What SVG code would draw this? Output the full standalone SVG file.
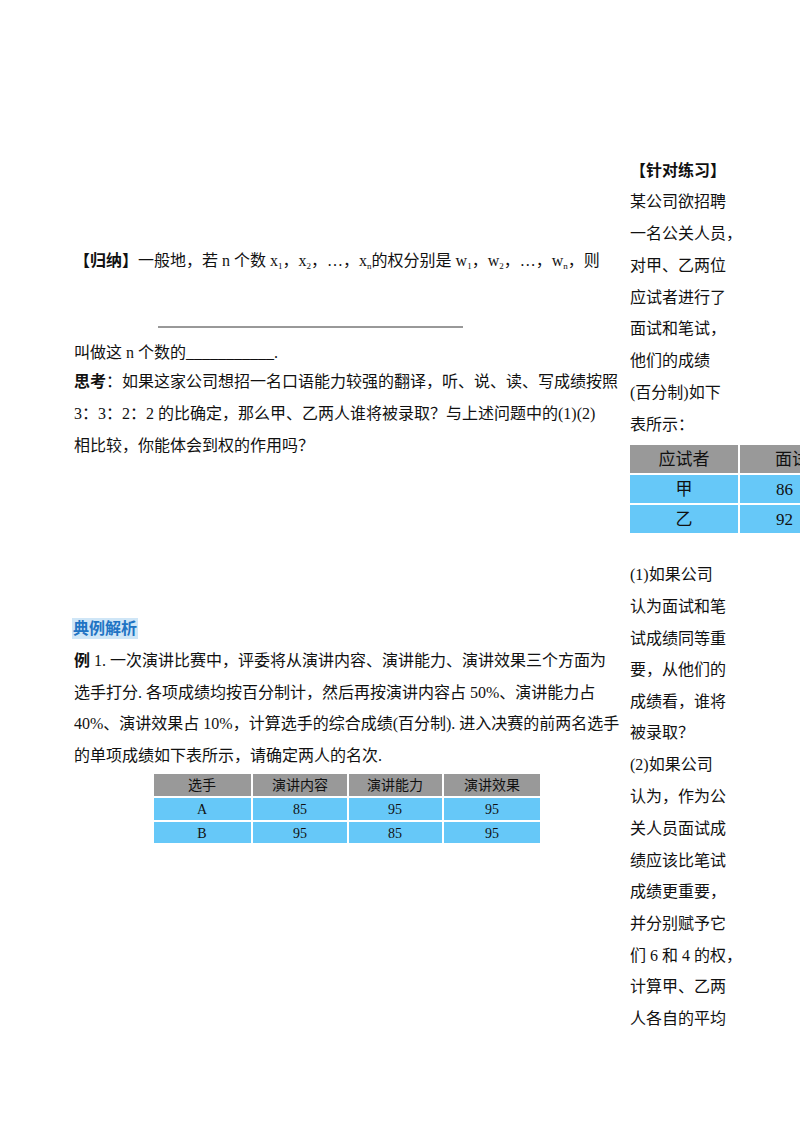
<svg xmlns="http://www.w3.org/2000/svg" width="800" height="1132" viewBox="0 0 800 1132">
<style>
text{font-family:"Liberation Serif","Noto Sans CJK SC",serif;font-size:16px;fill:#111}
.b{font-family:"Noto Sans CJK SC",sans-serif;font-weight:bold}
.c{text-anchor:middle}
.h{fill:#999}
.r{fill:#66c8f8}
.s{font-size:9px}
</style>
<rect width="800" height="1132" fill="#fff"/>
<g id="left">
<text x="74" y="266"><tspan class="b">【归纳】</tspan>一般地，若 n 个数 x<tspan class="s" dy="3">1</tspan><tspan dy="-3">，x</tspan><tspan class="s" dy="3">2</tspan><tspan dy="-3">，…，x</tspan><tspan class="s" dy="3">n</tspan><tspan dy="-3">的权分别是 w</tspan><tspan class="s" dy="3">1</tspan><tspan dy="-3">，w</tspan><tspan class="s" dy="3">2</tspan><tspan dy="-3">，…，w</tspan><tspan class="s" dy="3">n</tspan><tspan dy="-3">，则</tspan></text>
<line x1="158" y1="327" x2="463" y2="327" stroke="#333" stroke-width="1"/>
<text x="74" y="358">叫做这 n 个数的___________.</text>
<text x="74" y="387"><tspan class="b">思考</tspan>：如果这家公司想招一名口语能力较强的翻译，听、说、读、写成绩按照</text>
<text x="74" y="419">3：3：2：2 的比确定，那么甲、乙两人谁将被录取？与上述问题中的(1)(2)</text>
<text x="74" y="451">相比较，你能体会到权的作用吗？</text>
<rect x="72" y="618" width="66" height="21" fill="#cfe6f7"/>
<text x="73" y="634" class="b" style="fill:#1f74c4">典例解析</text>
<text x="74" y="666"><tspan class="b">例</tspan> 1. 一次演讲比赛中，评委将从演讲内容、演讲能力、演讲效果三个方面为</text>
<text x="74" y="698">选手打分. 各项成绩均按百分制计，然后再按演讲内容占 50%、演讲能力占</text>
<text x="74" y="729">40%、演讲效果占 10%，计算选手的综合成绩(百分制). 进入决赛的前两名选手</text>
<text x="74" y="761">的单项成绩如下表所示，请确定两人的名次.</text>
</g>
<g id="table1">
<rect x="154" y="774" width="97" height="22" class="h"/><rect x="253" y="774" width="94" height="22" class="h"/><rect x="349" y="774" width="93" height="22" class="h"/><rect x="444" y="774" width="96" height="22" class="h"/>
<rect x="154" y="798" width="97" height="22" class="r"/><rect x="253" y="798" width="94" height="22" class="r"/><rect x="349" y="798" width="93" height="22" class="r"/><rect x="444" y="798" width="96" height="22" class="r"/>
<rect x="154" y="822" width="97" height="21" class="r"/><rect x="253" y="822" width="94" height="21" class="r"/><rect x="349" y="822" width="93" height="21" class="r"/><rect x="444" y="822" width="96" height="21" class="r"/>
<g style="font-size:14px">
<text x="202" y="790" class="c" style="font-size:14px">选手</text><text x="300" y="790" class="c" style="font-size:14px">演讲内容</text><text x="395" y="790" class="c" style="font-size:14px">演讲能力</text><text x="492" y="790" class="c" style="font-size:14px">演讲效果</text>
<text x="202" y="814" class="c" style="font-size:14px">A</text><text x="300" y="814" class="c" style="font-size:14px">85</text><text x="395" y="814" class="c" style="font-size:14px">95</text><text x="492" y="814" class="c" style="font-size:14px">95</text>
<text x="202" y="838" class="c" style="font-size:14px">B</text><text x="300" y="838" class="c" style="font-size:14px">95</text><text x="395" y="838" class="c" style="font-size:14px">85</text><text x="492" y="838" class="c" style="font-size:14px">95</text>
</g>
</g>
<g id="right">
<text x="630" y="176" class="b">【针对练习】</text>
<text x="630" y="207">某公司欲招聘</text>
<text x="630" y="239">一名公关人员，</text>
<text x="630" y="271">对甲、乙两位</text>
<text x="630" y="303">应试者进行了</text>
<text x="630" y="334">面试和笔试，</text>
<text x="630" y="366">他们的成绩</text>
<text x="630" y="398">(百分制)如下</text>
<text x="630" y="430">表所示：</text>
<text x="630" y="580">(1)如果公司</text>
<text x="630" y="612">认为面试和笔</text>
<text x="630" y="644">试成绩同等重</text>
<text x="630" y="675">要，从他们的</text>
<text x="630" y="707">成绩看，谁将</text>
<text x="630" y="738">被录取？</text>
<text x="630" y="770">(2)如果公司</text>
<text x="630" y="802">认为，作为公</text>
<text x="630" y="834">关人员面试成</text>
<text x="630" y="866">绩应该比笔试</text>
<text x="630" y="897">成绩更重要，</text>
<text x="630" y="929">并分别赋予它</text>
<text x="630" y="961">们 6 和 4 的权，</text>
<text x="630" y="992">计算甲、乙两</text>
<text x="630" y="1024">人各自的平均</text>
</g>
<g id="table2">
<rect x="630" y="445" width="108" height="28" class="h"/><rect x="740" y="445" width="62" height="28" class="h"/>
<rect x="630" y="475" width="108" height="28" class="r"/><rect x="740" y="475" width="62" height="28" class="r"/>
<rect x="630" y="505" width="108" height="28" class="r"/><rect x="740" y="505" width="62" height="28" class="r"/>
<text x="684" y="465" class="c" style="font-size:17px">应试者</text><text x="775" y="465" style="font-size:17px">面试</text>
<text x="684" y="495" class="c" style="font-size:17px">甲</text><text x="776" y="495" style="font-size:17px">86</text>
<text x="684" y="525" class="c" style="font-size:17px">乙</text><text x="776" y="525" style="font-size:17px">92</text>
</g>
</svg>
